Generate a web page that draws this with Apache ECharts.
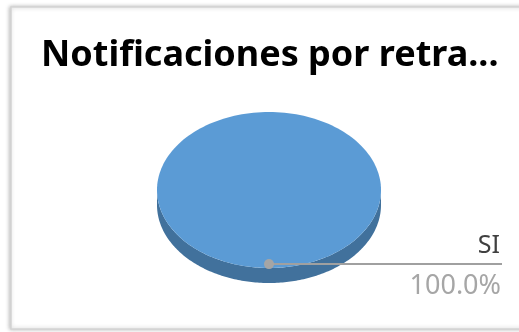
<!DOCTYPE html>
<html><head><meta charset="utf-8">
<script src="https://cdn.jsdelivr.net/npm/echarts@6/dist/echarts.min.js"></script>
<style>html,body{margin:0;padding:0;background:#fff}#c{width:519px;height:332px}</style>
</head><body><div id="c"></div>
<script>
const titleText = 'Notificaciones por retra...';
const categories = ['SI'];
const values = [100];
const colors = ['#5B9BD5'];
const sideColors = ['#41719C'];

const total = values.reduce((a, b) => a + b, 0);
const cx = 269, cy = 190, rx = 112, ry = 78, depth = 15;

function ellPt(t, dy) { // t: angle clockwise from 12 o'clock
  return [cx + rx * Math.sin(t), cy - ry * Math.cos(t) + (dy || 0)];
}

const chart = echarts.init(document.getElementById('c'), null, {renderer: 'canvas'});
chart.setOption({
  animation: false,
  title: {
    text: titleText, left: 36, top: 33,
    textStyle: {fontFamily: 'Noto Sans', fontWeight: 'bold', fontSize: 36, color: '#000'}
  },
  graphic: [{
    type: 'rect', z: -10, silent: true,
    shape: {x: 11, y: 7, width: 530, height: 322},
    style: {fill: '#fff', stroke: '#d4d4d4', lineWidth: 1.5,
      shadowBlur: 4, shadowColor: 'rgba(0,0,0,0.25)', shadowOffsetX: -1, shadowOffsetY: 0}
  }],
  series: [{
    type: 'custom',
    coordinateSystem: 'none',
    data: values.map((v, i) => [i, v]),
    renderItem: function (params, api) {
      const i = api.value(0);
      const v = api.value(1);
      let before = 0;
      for (let k = 0; k < i; k++) before += values[k];
      const a0 = before / total * Math.PI * 2;
      const a1 = (before + v) / total * Math.PI * 2;
      const n = 180;
      const s0 = Math.max(a0, Math.PI / 2), s1 = Math.min(a1, Math.PI * 1.5);
      const children = [];
      if (s1 > s0) {
        const pts = [];
        for (let j = 0; j <= n; j++) pts.push(ellPt(s0 + (s1 - s0) * j / n));
        for (let j = n; j >= 0; j--) pts.push(ellPt(s0 + (s1 - s0) * j / n, depth));
        children.push({type: 'polygon', shape: {points: pts}, style: {fill: sideColors[i]}});
      }
      const top = [];
      const full = (a1 - a0) >= Math.PI * 2 - 1e-9;
      if (!full) top.push([cx, cy]);
      for (let j = 0; j <= n; j++) top.push(ellPt(a0 + (a1 - a0) * j / n));
      children.push({type: 'polygon', shape: {points: top}, style: {fill: colors[i]}});
      const mid = (a0 + a1) / 2;
      const anchor = [cx + rx * Math.sin(mid) * 0.95, cy - ry * Math.cos(mid) * 0.95];
      const endX = 502;
      children.push({type: 'line', shape: {x1: anchor[0], y1: anchor[1], x2: endX, y2: anchor[1]},
        style: {stroke: '#a0a0a0', lineWidth: 2}});
      children.push({type: 'circle', shape: {cx: anchor[0], cy: anchor[1], r: 5}, style: {fill: '#a5a5a5'}});
      children.push({type: 'text', style: {text: categories[i], x: endX - 2, y: anchor[1] - 6,
        align: 'right', verticalAlign: 'bottom', fill: '#404040', fontFamily: 'Noto Sans', fontSize: 25}});
      children.push({type: 'text', style: {text: (v / total * 100).toFixed(1) + '%', x: endX - 1, y: anchor[1] + 9,
        align: 'right', verticalAlign: 'top', fill: '#a6a6a6', fontFamily: 'Noto Sans', fontSize: 27}});
      return {type: 'group', children: children};
    }
  }]
});
</script></body></html>
